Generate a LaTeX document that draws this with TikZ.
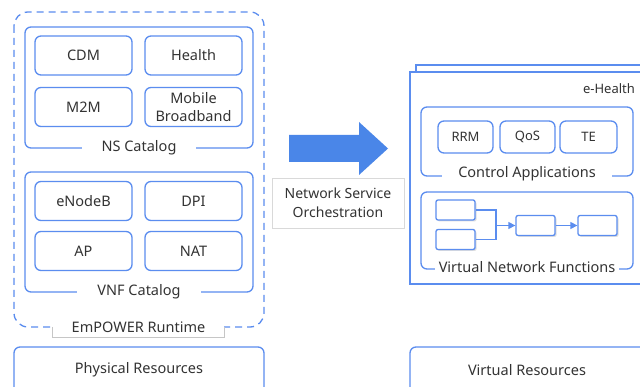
\documentclass[tikz,border=0pt]{standalone}
\usepackage{fontspec}
\setmainfont{Noto Sans}
\usetikzlibrary{arrows.meta,shadows}
\definecolor{lineblue}{HTML}{5B8DEF}
\definecolor{arrowblue}{HTML}{4A86E8}
\definecolor{txtgray}{HTML}{333333}
\begin{document}
\begin{tikzpicture}[x=1pt,y=-1pt,
    box/.style={draw=lineblue,line width=1.3pt,rounded corners=6pt},
    cell/.style={box,minimum width=97pt,minimum height=39pt,align=center,
        text=txtgray,font=\fontsize{14.5}{18}\selectfont},
    app/.style={box,minimum width=55pt,minimum height=32pt,text=txtgray,
        font=\fontsize{13}{15}\selectfont},
    vnf/.style={draw=lineblue,fill=white,line width=1.3pt,rounded corners=2pt,
        minimum width=39pt,minimum height=20pt,
        drop shadow={shadow xshift=1.5pt,shadow yshift=-1.5pt,opacity=.25}},
    lbl/.style={fill=white,text=txtgray,inner xsep=20pt,inner ysep=1pt,
        font=\fontsize{14.5}{17}\selectfont},
    flow/.style={draw=lineblue,line width=1.3pt,-{Triangle[length=7pt,width=7pt]}}]
    \clip (0,0) rectangle (640,387);
    \fill[white] (0,0) rectangle (640,387);

    % EmPOWER Runtime (left side)
    \begin{scope}
        \draw[lineblue,line width=1.3pt,dash pattern=on 7pt off 5pt,rounded corners=14pt]
            (14,12) rectangle (264,327);
        \node[lbl,minimum width=171pt,minimum height=20pt,inner xsep=0pt] (runtime) at (138.5,327) {EmPOWER Runtime};
        \draw[gray!45,line width=0.8pt] (runtime.west) |- (runtime.south) -| (runtime.east);
        % NS catalog
        \draw[box] (25,27) rectangle (253,148);
        \node[lbl] (nscat) at (139,148) {NS Catalog};
        \node[cell] (cdm) at (83.5,55.5) {CDM};
        \node[cell] (health) at (193.5,55.5) {Health};
        \node[cell] (m2m) at (83.5,107) {M2M};
        \node[cell] (mbb) at (193.5,107) {Mobile\\Broadband};
        % VNF catalog
        \draw[box] (25,172) rectangle (253,292);
        \node[lbl] (vnfcat) at (139,292) {VNF Catalog};
        \node[cell] (enb) at (83.5,201) {eNodeB};
        \node[cell] (dpi) at (193.5,201) {DPI};
        \node[cell] (ap) at (83.5,251) {AP};
        \node[cell] (nat) at (193.5,251) {NAT};
        % physical resources
        \draw[box] (14,347) rectangle (264,400);
        \node[lbl,fill=none,inner xsep=0pt] (phys) at (139,370) {Physical Resources};
    \end{scope}

    % Orchestration arrow
    \fill[arrowblue] (289,135) -- (359,135) -- (359,122) -- (388,148.5) -- (359,175)
        -- (359,162) -- (289,162) -- cycle;
    \node[draw=gray!30,line width=0.8pt,minimum width=132pt,minimum height=50pt,align=center,
        text=txtgray,font=\fontsize{14}{19}\selectfont] (nso) at (338,203) {Network Service\\Orchestration};

    % e-Health slice (right side)
    \begin{scope}
        \draw[lineblue,line width=1.3pt] (416,65) rectangle (700,277);
        \draw[lineblue,line width=1.3pt,fill=white] (410,72) rectangle (700,284);
        \node[text=txtgray,font=\fontsize{13}{15}\selectfont] (slice) at (609,89) {e-Health};
        % control applications
        \draw[box] (421,107) rectangle (633,176);
        \node[lbl,inner xsep=16pt] (ctrl) at (527,174) {Control Applications};
        \node[app] (rrm) at (465.5,137) {RRM};
        \node[app] (qos) at (527.5,137) {QoS};
        \node[app,minimum width=57pt] (te) at (588.5,137) {TE};
        % virtual network functions
        \draw[box] (421,192) rectangle (633,269);
        \node[lbl,inner xsep=4pt] (vnfs) at (527,267) {Virtual Network Functions};
        \node[vnf] (f1) at (455.5,210) {};
        \node[vnf] (f2) at (455.5,239.5) {};
        \node[vnf] (f3) at (535.5,225.5) {};
        \node[vnf] (f4) at (597.5,225.5) {};
        \coordinate (join) at (496,225.5);
        \draw[lineblue,line width=1.3pt] (f1.east) -| (join);
        \draw[lineblue,line width=1.3pt] (f2.east) -| (join);
        \draw[flow] (join) -- (f3);
        \draw[flow] (f3) -- (f4);
        % virtual resources
        \draw[box] (410,347) rectangle (700,400);
        \node[lbl,fill=none,inner xsep=0pt] (virt) at (527,370) {Virtual Resources};
    \end{scope}
\end{tikzpicture}
\end{document}
